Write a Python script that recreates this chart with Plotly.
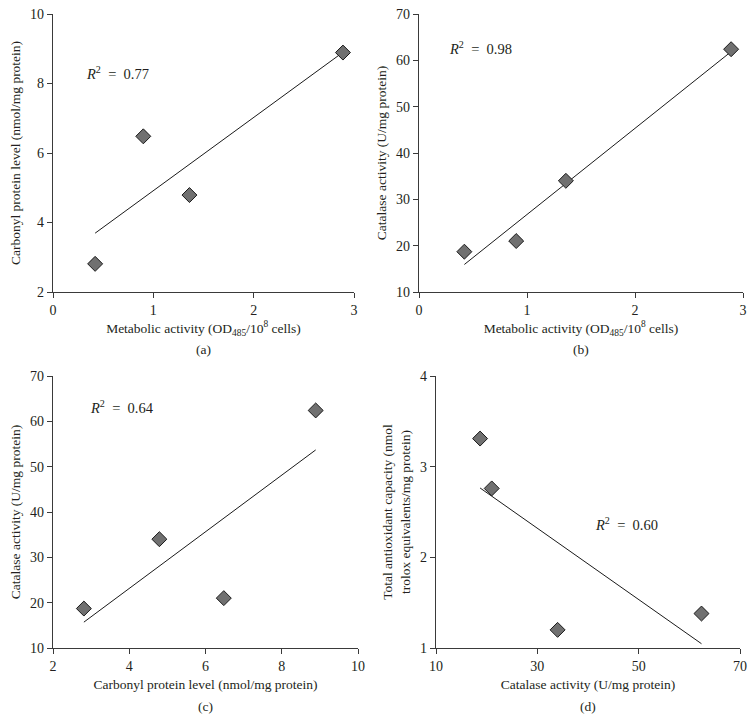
import numpy as np
import plotly.graph_objects as go

# Data (four samples)
metabolic = [0.42, 0.90, 1.36, 2.89]          # OD485/10^8 cells
carbonyl = [2.81, 6.48, 4.79, 8.89]           # nmol/mg protein
catalase = [18.7, 21.0, 34.0, 62.4]           # U/mg protein
tac = [3.31, 2.76, 1.20, 1.38]                # nmol trolox eq./mg protein

r2_labels = ["0.77", "0.98", "0.64", "0.60"]
panel_labels = ["(a)", "(b)", "(c)", "(d)"]

W, H = 755, 724
FONT = "Liberation Serif"
TXT = "#231f20"
AXC = "#3a3a3a"
MFILL = "#707070"

# pixel boxes: (x0, x1, ytop, ybottom)
boxes = [(53, 354, 14, 292), (419, 743, 14, 292), (53, 358, 376, 648), (436, 740, 376, 648)]

panels = [
    dict(x=metabolic, y=carbonyl, xr=[0, 3], yr=[2, 10], xt=[0, 1, 2, 3], yt=[2, 4, 6, 8, 10],
         xtitle="Metabolic activity (OD<sub>485</sub>/10<sup>8</sup> cells)",
         ytitle="Carbonyl protein level (nmol/mg protein)", r2pos=(0.31, 8.3)),
    dict(x=metabolic, y=catalase, xr=[0, 3], yr=[10, 70], xt=[0, 1, 2, 3], yt=[10, 20, 30, 40, 50, 60, 70],
         xtitle="Metabolic activity (OD<sub>485</sub>/10<sup>8</sup> cells)",
         ytitle="Catalase activity (U/mg protein)", r2pos=(0.26, 62.6)),
    dict(x=carbonyl, y=catalase, xr=[2, 10], yr=[10, 70], xt=[2, 4, 6, 8, 10], yt=[10, 20, 30, 40, 50, 60, 70],
         xtitle="Carbonyl protein level (nmol/mg protein)",
         ytitle="Catalase activity (U/mg protein)", r2pos=(2.91, 63.2)),
    dict(x=catalase, y=tac, xr=[10, 70], yr=[1, 4], xt=[10, 30, 50, 70], yt=[1, 2, 3, 4],
         xtitle="Catalase activity (U/mg protein)",
         ytitle="Total antioxidant capacity (nmol<br>trolox equivalents/mg protein)", r2pos=(40.9, 2.37)),
]

fig = go.Figure()
annotations = []
layout = {}

for i, (p, b) in enumerate(zip(panels, boxes)):
    n = "" if i == 0 else str(i + 1)
    xa, ya = "x" + n, "y" + n
    x0, x1, yt, yb = b
    xdom = [x0 / W, x1 / W]
    ydom = [1 - yb / H, 1 - yt / H]

    xs = np.array(p["x"], dtype=float)
    ys = np.array(p["y"], dtype=float)
    slope, icpt = np.polyfit(xs, ys, 1)
    lx = np.array([xs.min(), xs.max()])
    ly = slope * lx + icpt

    fig.add_trace(go.Scatter(x=lx, y=ly, mode="lines", line=dict(color="#1a1a1a", width=1),
                             xaxis=xa, yaxis=ya, showlegend=False, hoverinfo="skip"))
    fig.add_trace(go.Scatter(x=xs, y=ys, mode="markers",
                             marker=dict(symbol="diamond", size=11.5, color=MFILL,
                                         line=dict(color="#1a1a1a", width=1)),
                             xaxis=xa, yaxis=ya, showlegend=False))

    common = dict(showgrid=False, zeroline=False, showline=True, linecolor=AXC, linewidth=1.3,
                  ticks="outside", ticklen=5, tickcolor=AXC, tickwidth=1.3, automargin=False,
                  tickfont=dict(family=FONT, size=14, color=TXT))
    layout["xaxis" + n] = dict(domain=xdom, range=p["xr"], tickvals=p["xt"], anchor=ya,
                               title=dict(text=p["xtitle"], font=dict(family=FONT, size=13.5, color=TXT),
                                          standoff=6), **common)
    layout["yaxis" + n] = dict(domain=ydom, range=p["yr"], tickvals=p["yt"], anchor=xa,
                               title=dict(text=p["ytitle"], font=dict(family=FONT, size=13.5, color=TXT),
                                          standoff=6), **common)

    annotations.append(dict(x=p["r2pos"][0], y=p["r2pos"][1], xref=xa, yref=ya, xanchor="left",
                            yanchor="middle", showarrow=False,
                            text="<i>R</i><sup>2</sup>  =  " + r2_labels[i],
                            font=dict(family=FONT, size=14.5, color=TXT)))
    annotations.append(dict(x=(x0 + x1) / 2 / W, y=1 - (yb + 58) / H, xref="paper", yref="paper",
                            xanchor="center", yanchor="middle", showarrow=False,
                            text=panel_labels[i], font=dict(family=FONT, size=13.5, color=TXT)))

fig.update_layout(width=W, height=H, margin=dict(l=0, r=0, t=0, b=0),
                  paper_bgcolor="white", plot_bgcolor="white",
                  annotations=annotations, **layout)

fig.write_html("out.html", config={"displayModeBar": False},
               post_script="document.body.style.margin='0';document.body.style.padding='0';")
